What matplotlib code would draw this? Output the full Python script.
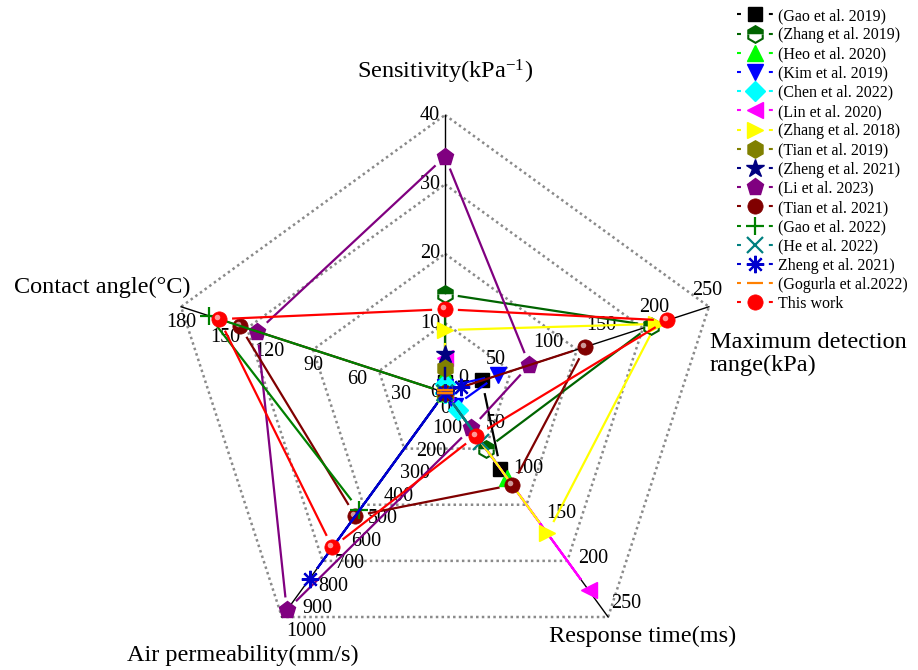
import numpy as np
import matplotlib
matplotlib.use('Agg')
import matplotlib.pyplot as plt
from matplotlib.lines import Line2D
import matplotlib.transforms as mtransforms

plt.rcParams['font.family'] = 'Liberation Serif'
plt.rcParams['mathtext.fontset'] = 'custom'
plt.rcParams['mathtext.rm'] = 'Liberation Serif'
plt.rcParams['mathtext.it'] = 'Liberation Serif:italic'

# ---------------- datos ----------------
axis_names = ['Sensitivity(kPa$^{-1}$)', 'Maximum detection\nrange(kPa)', 'Response time(ms)',
              'Air permeability(mm/s)', 'Contact angle(°C)']
axis_max = [40, 250, 250, 1000, 180]
ticks_sens = [0, 10, 20, 30, 40]
ticks_range = [0, 50, 100, 150, 200, 250]
ticks_resp = [0, 50, 100, 150, 200, 250]
ticks_perm = [0, 100, 200, 300, 400, 500, 600, 700, 800, 900, 1000]
ticks_cont = [0, 30, 60, 90, 120, 150, 180]

names = ['(Gao et al. 2019)', '(Zhang et al. 2019)', '(Heo et al. 2020)', '(Kim et al. 2019)',
         '(Chen et al. 2022)', '(Lin et al. 2020)', '(Zhang et al. 2018)', '(Tian et al. 2019)',
         '(Zheng et al. 2021)', '(Li et al. 2023)', '(Tian et al. 2021)', '(Gao et al. 2022)',
         '(He et al. 2022)', 'Zheng et al. 2021)', '(Gogurla et al.2022)', 'This work']

sensitivity = [1.5, 14.2, 2.7, 0.8, 1.2, 5.0, 9.0, 3.5, 5.5, 34.0, 0, 0, 0, 0, 0.3, 12.0]
max_range = [35, 195, 0, 50, 0, 0, 200, 0, 0, 80, 133, 0, 0, 15, 0, 210]
response = [85, 63, 95, 15, 20, 220, 157, 0, 0, 40, 103, 0, 55, 0, 0, 48]
permeability = [0, 0, 0, 0, 0, 0, 0, 0, 0, 970, 550, 525, 0, 830, 0, 690]
contact = [0, 0, 0, 0, 0, 0, 0, 0, 0, 128, 140, 161, 0, 0, 0, 154]

# ---------------- estilos ----------------
colors = ['#000000', '#006400', '#00ff00', '#0000ff', '#00ffff', '#ff00ff', '#ffff00', '#808000',
          '#000080', '#800080', '#800000', '#008000', '#008080', '#0000cd', '#ff8000', '#ff0000']
markers = ['s', 'h', '^', 'v', 'D', '<', '>', 'h', '*', 'p', 'o', '+', 'x', (8, 2, 0), '_', 'o']
msizes = [9.5, 12, 12, 12, 10.5, 12, 12, 12.5, 13.5, 12.5, 11, 13, 12, 12.5, 12, 11]

angles = np.deg2rad([90, 18, -54, -126, 162])

W, H = 918, 670
CX, CY, R = 445, 392.5, 277.5   # centro y radio en pixeles

fig = plt.figure(figsize=(W / 100, H / 100), dpi=100)
ax = fig.add_axes([0, 0, 1, 1])
ax.set_xlim(-CX / R, (W - CX) / R)
ax.set_ylim(-(H - CY) / R, CY / R)
ax.axis('off')


def px(x, y):
    return (x - CX) / R, (CY - y) / R


# grilla punteada
for lev in [0.25, 0.5, 0.75, 1.0]:
    gx = lev * np.cos(np.append(angles, angles[0]))
    gy = lev * np.sin(np.append(angles, angles[0]))
    ax.plot(gx, gy, color='#8a8a8a', lw=1.8, ls=(0, (1, 1.3)), zorder=1)

# ejes y etiquetas de ticks
all_ticks = [ticks_sens, ticks_range, ticks_resp, ticks_perm, ticks_cont]
lab_off = [(-5, 0, 'right'), (-2, 16, 'center'), (18, 14, 'center'), (4, -14, 'left'), (0, -16, 'center')]
for k in range(5):
    ca, sa = np.cos(angles[k]), np.sin(angles[k])
    ax.plot([0, ca], [0, sa], color='black', lw=1, zorder=2)
    dx, dy, ha = lab_off[k]
    for t in all_ticks[k]:
        r = t / axis_max[k]
        ax.annotate(str(t), (r * ca, r * sa), xytext=(dx, dy), textcoords='offset pixels',
                    ha=ha, va='center', fontsize=14.5, zorder=1.5)

# titulos de los ejes
fs_t = 17.5
ax.text(*px(445, 72), axis_names[0], ha='center', va='center', fontsize=fs_t)
ax.text(*px(710, 354), axis_names[1], ha='left', va='center', fontsize=fs_t, linespacing=1.1)
ax.text(*px(643, 636), axis_names[2], ha='center', va='center', fontsize=fs_t)
ax.text(*px(243, 655), axis_names[3], ha='center', va='center', fontsize=fs_t)
ax.text(*px(102, 287), axis_names[4], ha='center', va='center', fontsize=fs_t)

# series
gap = 14 / R
hl = mtransforms.offset_copy(ax.transData, fig=fig, x=-2, y=2, units='dots')
handles = []
for i in range(len(names)):
    vals = [sensitivity[i], max_range[i], response[i], permeability[i], contact[i]]
    r = np.array(vals) / np.array(axis_max)
    x = r * np.cos(angles)
    y = r * np.sin(angles)
    lx, ly = [], []
    for j in range(5):
        x0, y0 = x[j], y[j]
        x1, y1 = x[(j + 1) % 5], y[(j + 1) % 5]
        L = np.hypot(x1 - x0, y1 - y0)
        if L > 2 * gap:
            ux, uy = (x1 - x0) / L, (y1 - y0) / L
            lx += [x0 + gap * ux, x1 - gap * ux, np.nan]
            ly += [y0 + gap * uy, y1 - gap * uy, np.nan]
    z = 3 + i * 0.1
    ax.plot(lx, ly, color=colors[i], lw=1.6, zorder=z)
    kw = dict(marker=markers[i], ms=msizes[i], color=colors[i], ls='none')
    if i == 1:
        kw.update(fillstyle='top', markerfacecoloralt='white', mew=1.5)
    elif markers[i] in ['+', 'x', (8, 2, 0), '_']:
        kw.update(mew=1.6)
    elif markers[i] == 'o':
        kw.update(mec=colors[i], mew=0.5)
    ax.plot(x, y, zorder=z + 0.05, **kw)
    if markers[i] == 'o':
        ax.plot(x, y, 'o', ms=4, color='white', alpha=0.6, mew=0, transform=hl, zorder=z + 0.06)
    handles.append(Line2D([], [], lw=1.5, ls=(0, (1.9, 13.4)), **{k: v for k, v in kw.items() if k != 'ls'}))

fig.legend(handles, names, loc='upper left', bbox_to_anchor=(737 / W, 1 - 8 / H),
           frameon=False, fontsize=11.5, handlelength=2.3, handletextpad=0.25,
           labelspacing=0.2, borderaxespad=0, borderpad=0, numpoints=1)

plt.savefig('out.png', dpi=100)
plt.close('all')
